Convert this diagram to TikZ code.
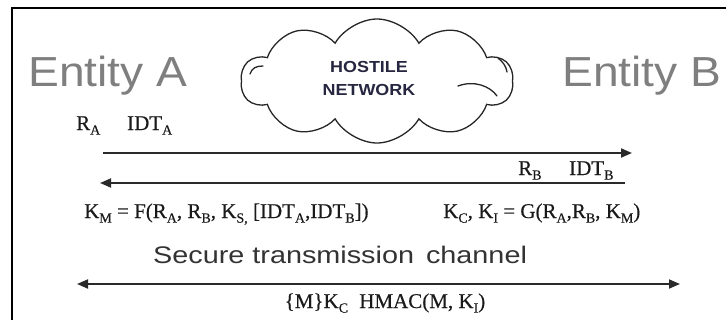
\documentclass[tikz,border=0pt]{standalone}
\usepackage{fontspec}
\setmainfont[FakeBold=0.4]{Liberation Serif}
\newfontfamily\entfont[FakeStretch=1.1]{Liberation Sans}
\newfontfamily\secfont[FakeStretch=1.2]{Liberation Sans}
\newfontfamily\hostfont[FakeStretch=1.12]{Liberation Sans}
\usetikzlibrary{shapes.symbols,arrows.meta}
\definecolor{entgray}{HTML}{7F7F7F}
\definecolor{txtdark}{HTML}{1A1A1A}
\definecolor{secgray}{HTML}{333333}
\definecolor{hostc}{HTML}{262640}
\definecolor{linegray}{HTML}{2A2A2A}
\newcommand\sbs[1]{\raisebox{-0.22em}{\fontsize{14bp}{14bp}\selectfont #1}}
\begin{document}
\begin{tikzpicture}[x=1bp,y=-1bp,
  entity/.style={anchor=base west, text=entgray, inner sep=0,
    font=\entfont\fontsize{42bp}{42bp}\selectfont},
  lbl/.style={anchor=base west, inner sep=0, text=txtdark,
    font=\fontsize{21bp}{21bp}\selectfont},
  msg/.style={line width=1.8bp, draw=linegray,
    -{Triangle[length=11bp,width=9bp]}},
  biarrow/.style={line width=1.8bp, draw=linegray,
    {Triangle[length=11bp,width=9bp]}-{Triangle[length=11bp,width=9bp]}},
  curl/.style={line width=1.3bp, draw=black!85, line cap=round},
]
\useasboundingbox (0,0) rectangle (726,320);
\draw[line width=1.5bp] (12,320) -- (12,8) -- (726,8);

\node[entity] (ea) at (28,86) {Entity A};
\node[entity] (eb) at (562,86) {Entity B};

\node[cloud, cloud puffs=10, cloud puff arc=120, cloud ignores aspect,
  draw=black!85, line width=1.3bp,
  minimum width=272bp, minimum height=124bp, inner sep=0] (net) at (377,81) {};
\draw[curl] (250,74) .. controls (252,68) and (256,66) .. (263,66);
\draw[curl] (458,86) .. controls (474,80) and (490,86) .. (497,96);
\draw[curl] (498,58) .. controls (503,62) and (506,66) .. (507,72);
\node[font=\hostfont\bfseries\fontsize{16bp}{23bp}\selectfont, text=hostc,
  align=center] (host) at (369,78) {HOSTILE\\NETWORK};

\node[lbl] (ra) at (76,130) {R\sbs{A}};
\node[lbl] (ida) at (127,130) {IDT\sbs{A}};
\coordinate (a1s) at (103,153);
\coordinate (a1e) at (632,153);
\draw[msg] (a1s) -- (a1e);

\node[lbl] (rb) at (518,175) {R\sbs{B}};
\node[lbl] (idb) at (569,175) {IDT\sbs{B}};
\coordinate (a2s) at (625,183);
\coordinate (a2e) at (100,183);
\draw[msg] (a2s) -- (a2e);

\node[lbl] (km) at (84,218) {K\sbs{M} = F(R\sbs{A}, R\sbs{B}, K\sbs{S,} [IDT\sbs{A},IDT\sbs{B}])};
\node[lbl] (kc) at (443,218) {K\sbs{C}, K\sbs{I} = G(R\sbs{A},R\sbs{B}, K\sbs{M})};

\node[anchor=base west, inner sep=0, text=secgray,
  font=\secfont\fontsize{24bp}{24bp}\selectfont] (sec) at (153,263)
  {Secure transmission\hspace{4bp} channel};

\coordinate (b1) at (77,284);
\coordinate (b2) at (680,284);
\draw[biarrow] (b1) -- (b2);

\node[lbl, anchor=base] (mk) at (385,308) {\{M\}K\sbs{C}\hspace{6bp} HMAC(M, K\sbs{I})};
\end{tikzpicture}
\end{document}
